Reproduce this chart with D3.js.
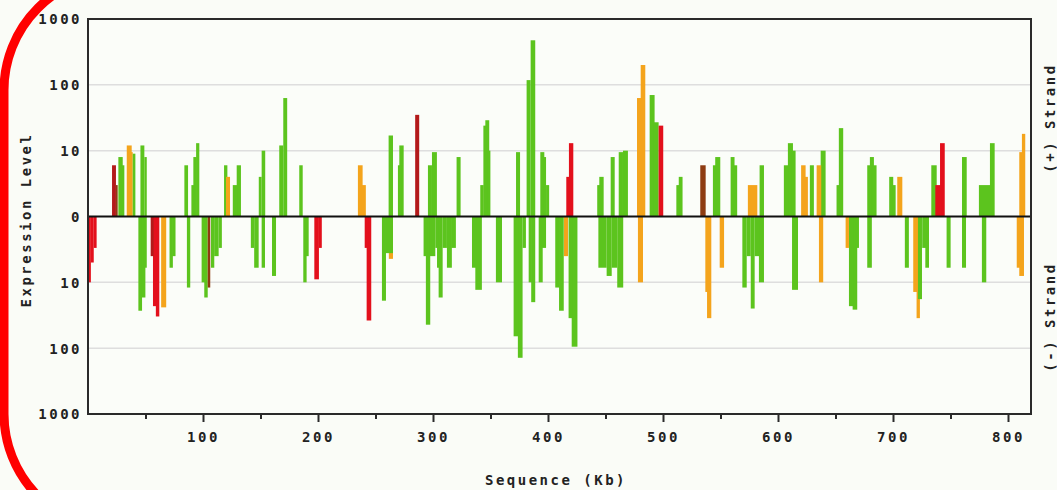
<!DOCTYPE html>
<html lang="en">
  <head>
    <script src="https://d3js.org/d3.v7.min.js"></script>
    <style>
      body { margin: 0; background: #fafcf7; }
      text { font-family: "DejaVu Sans Mono", monospace; font-weight: bold; font-size: 14px; letter-spacing: 2.5px; fill: #222; }
    </style>
  </head>
  <body>
    <script>
      // gene bars: [start Kb, end Kb, expression level, colour key]
      var plusGenes = [
        [20.9, 24.3, 6, "d"], [24.3, 25.8, 3, "b"], [26.4, 30.2, 8, "g"], [28.7, 31.6, 6, "g"],
        [33.7, 38.0, 12, "o"], [36.6, 38.9, 9.5, "o"], [38.9, 41.2, 9, "g"], [45.6, 49.0, 12, "g"],
        [49.0, 51.1, 8, "g"], [83.8, 87.0, 6, "g"], [89.9, 92.5, 3, "g"], [91.6, 94.6, 8, "g"],
        [94.0, 96.8, 13, "g"], [118.3, 121.2, 6, "g"], [120.0, 123.5, 4, "o"], [125.9, 130.1, 3, "g"],
        [129.3, 133.0, 6, "g"], [148.5, 151.0, 4, "g"], [151.0, 154.1, 10, "g"], [166.3, 169.8, 12, "g"],
        [169.8, 173.2, 63, "g"], [183.7, 186.7, 6, "g"],
        [234.7, 238.8, 6, "o"], [237.6, 241.6, 3, "o"], [261.4, 265.2, 17, "g"], [269.5, 272.4, 6, "g"],
        [270.7, 274.5, 12, "g"], [284.5, 288.0, 35, "d"], [295.6, 299.1, 6, "g"], [299.1, 303.4, 9.5, "g"],
        [320.5, 324.0, 8, "g"], [341.1, 344.1, 3, "g"], [343.8, 346.4, 24, "g"], [345.5, 348.9, 29, "g"],
        [347.0, 349.9, 10, "g"], [372.2, 375.7, 9.5, "g"], [381.4, 384.9, 118, "g"], [384.9, 388.9, 475, "g"],
        [393.3, 396.8, 9.5, "g"], [395.9, 398.3, 8, "g"], [398.3, 401.0, 3, "g"],
        [415.9, 418.8, 4, "r"], [418.2, 422.0, 13, "r"], [442.8, 445.8, 3, "g"], [444.6, 448.4, 4, "g"],
        [454.5, 458.0, 8, "g"], [461.5, 465.2, 9.5, "g"], [465.2, 469.5, 10, "g"], [477.4, 481.1, 63, "o"],
        [480.6, 484.6, 200, "o"], [488.4, 492.7, 70, "g"], [491.8, 496.2, 27, "g"], [496.2, 500.2, 24, "r"],
        [511.6, 514.5, 3, "g"], [513.7, 517.0, 4, "g"], [532.4, 537.1, 6, "b"], [543.4, 546.3, 6, "g"],
        [545.4, 549.8, 8, "g"], [558.8, 562.2, 8, "g"], [561.6, 564.5, 6, "g"], [573.8, 582.0, 3, "o"],
        [584.0, 587.8, 6, "g"], [605.1, 609.2, 6, "g"], [608.6, 613.0, 13, "g"], [611.5, 615.3, 10, "g"],
        [620.1, 624.0, 6, "o"], [623.4, 626.0, 4, "o"], [627.7, 631.2, 6, "g"], [633.6, 637.6, 6, "o"],
        [637.1, 641.4, 10, "g"], [650.9, 653.8, 3, "g"], [652.9, 656.7, 22, "g"], [677.6, 681.0, 6, "g"],
        [679.9, 683.4, 8, "g"], [682.2, 685.7, 6, "g"], [696.7, 700.2, 4, "g"], [699.7, 702.3, 3, "g"],
        [703.7, 708.1, 4, "o"], [733.3, 738.0, 6, "g"], [736.8, 741.5, 3, "r"], [740.9, 745.0, 13, "r"],
        [760.0, 764.1, 8, "g"], [774.7, 784.9, 3, "g"], [784.3, 788.4, 13, "g"], [809.8, 813.3, 9.5, "o"],
        [812.1, 815.0, 18, "o"]
      ];

      var minusGenes = [
        [0.5, 2.5, 10, "r"], [2.5, 5, 5, "r"], [5, 7.5, 3, "r"], [43.8, 47.0, 27, "g"],
        [46.2, 49.9, 17, "g"], [48.2, 51.1, 6, "g"], [54.5, 57, 4, "d"], [56.5, 59.5, 23, "r"],
        [59, 62, 33, "r"], [63.6, 68.0, 24, "o"], [70.9, 73.8, 6, "g"], [73.2, 76.1, 4, "g"],
        [86.0, 88.9, 12, "g"], [98.8, 102.6, 10, "g"], [101.1, 104.1, 17, "g"], [104.1, 106.3, 12, "b"],
        [106.9, 109.8, 6, "g"], [109.7, 113.6, 4, "g"], [113.6, 116.4, 3, "g"], [141.6, 144.5, 3, "g"],
        [144.5, 148.4, 6, "g"], [151.0, 153.9, 6, "g"], [160.0, 163.5, 8, "g"], [187.2, 190.1, 10, "g"],
        [189.5, 191.9, 4, "g"], [196.8, 200.8, 9, "r"], [200.8, 203.3, 3, "r"],
        [240.6, 244.1, 3, "r"], [242.3, 246.3, 38, "r"], [255.6, 259.1, 19, "g"], [261.6, 265.2, 4.4, "o"],
        [258.5, 265.2, 3.6, "g"], [291.8, 295.6, 4, "g"], [293.8, 297.6, 44, "g"], [296.8, 302.0, 4, "g"],
        [302.0, 304.9, 3, "g"], [303.5, 307.2, 6, "g"], [304.9, 308.4, 17, "g"], [308.4, 312.1, 3, "g"],
        [312.1, 316.4, 6, "g"], [315.8, 319.9, 3, "g"], [333.9, 337.6, 6, "g"], [336.8, 342.5, 13, "g"],
        [354.7, 360.0, 10, "g"], [370.1, 374.4, 66, "g"], [373.8, 377.9, 140, "g"], [377.9, 380.8, 3, "g"],
        [383.2, 386.0, 10, "g"], [385.4, 388.9, 20, "g"], [391.9, 395.4, 10, "g"], [394.8, 398.3, 3, "g"],
        [406.3, 410.0, 12, "g"], [409.6, 413.7, 27, "g"],
        [413.9, 417.4, 4, "o"], [417.9, 421.0, 35, "g"], [420.6, 425.6, 95, "g"], [443.8, 451.0, 6, "g"],
        [451.0, 455.4, 8, "g"], [455.4, 460.2, 6, "g"], [460.2, 465.4, 12, "g"], [478.2, 482.6, 10, "o"],
        [536.8, 540.0, 14, "o"], [538.3, 542.0, 35, "o"], [549.3, 553.1, 6, "o"], [569.0, 572.8, 12, "g"],
        [572.8, 576.3, 4, "g"], [576.3, 579.7, 25, "g"], [579.7, 584.0, 4, "g"], [583.4, 587.8, 10, "g"],
        [612.2, 617.4, 13, "g"],
        [635.6, 639.3, 10, "o"], [658.8, 661.7, 3, "o"], [661.7, 665.4, 23, "g"], [664.9, 668.9, 26, "g"],
        [667.5, 670.4, 3, "g"], [677.6, 681.6, 6, "g"], [710.3, 713.8, 6, "g"], [717.6, 721.1, 14, "o"],
        [720.5, 723.4, 35, "o"], [721.7, 725.2, 18, "g"], [725.4, 729.3, 3, "g"], [728.1, 731.3, 6, "g"],
        [746.6, 750.1, 6, "g"], [760.0, 763.5, 6, "g"], [777.3, 781.1, 10, "g"], [807.6, 811.1, 6, "o"],
        [809.8, 813.9, 8, "o"]
      ];

      var colours = { g: "#5cc41e", o: "#f4a41c", r: "#e3101c", d: "#b31a1a", b: "#8e3c12" };

      // signed decades on the y axis, and their labels
      var yTicks = [-3, -2, -1, 0, 1, 2, 3];
      var yTickLabels = ["1000", "100", "10", "0", "10", "100", "1000"];
      var gridLevels = [-2, -1, 1, 2];

      var width = 1057,
        height = 490;
      var plotLeft = 88,
        plotRight = 1031,
        plotTop = 19,
        plotBottom = 414;

      var svg = d3
        .select("body")
        .append("svg")
        .attr("width", width)
        .attr("height", height);

      var x = d3.scaleLinear().domain([0, 820]).range([plotLeft, plotRight]);
      var y = d3.scaleLinear().domain([-3, 3]).range([plotBottom, plotTop]);
      var lg = d3.scaleLog().domain([1, 1000]).range([0, 3]);

      // plot background
      svg
        .append("rect")
        .attr("x", plotLeft)
        .attr("y", plotTop)
        .attr("width", plotRight - plotLeft)
        .attr("height", plotBottom - plotTop)
        .attr("fill", "#fbfdf9");

      // light grid lines at 10 and 100
      svg
        .selectAll(".grid")
        .data(gridLevels)
        .join("line")
        .attr("class", "grid")
        .attr("x1", plotLeft)
        .attr("x2", plotRight)
        .attr("y1", function (d) { return y(d); })
        .attr("y2", function (d) { return y(d); })
        .attr("stroke", "#dedede")
        .attr("stroke-width", 1.5);

      // bars, tallest first so shorter overlapping genes stay visible
      function drawStrand(genes, sign, cls) {
        var sorted = genes.slice().sort(function (a, b) { return b[2] - a[2]; });
        svg
          .selectAll("." + cls)
          .data(sorted)
          .join("rect")
          .attr("class", cls)
          .attr("x", function (d) { return x(d[0]); })
          .attr("width", function (d) { return x(d[1]) - x(d[0]); })
          .attr("y", function (d) { return sign > 0 ? y(lg(d[2])) : y(0); })
          .attr("height", function (d) { return Math.abs(y(0) - y(lg(d[2]))); })
          .attr("fill", function (d) { return colours[d[3]]; });
      }
      drawStrand(plusGenes, 1, "plus");
      drawStrand(minusGenes, -1, "minus");

      // zero line
      svg
        .append("line")
        .attr("x1", plotLeft)
        .attr("x2", plotRight)
        .attr("y1", y(0))
        .attr("y2", y(0))
        .attr("stroke", "#111")
        .attr("stroke-width", 2);

      // frame
      svg
        .append("rect")
        .attr("x", plotLeft)
        .attr("y", plotTop)
        .attr("width", plotRight - plotLeft)
        .attr("height", plotBottom - plotTop)
        .attr("fill", "none")
        .attr("stroke", "#2a2a2a")
        .attr("stroke-width", 2);

      // x axis with minor ticks every 50 Kb
      var xAxis = svg
        .append("g")
        .attr("transform", "translate(0," + plotBottom + ")")
        .call(
          d3
            .axisBottom(x)
            .tickValues(d3.range(50, 820, 50))
            .tickFormat(function (d) { return d % 100 ? "" : d; })
            .tickSizeOuter(0)
            .tickPadding(12)
        );
      xAxis.select(".domain").remove();
      xAxis
        .selectAll(".tick line")
        .attr("stroke", "#2a2a2a")
        .attr("stroke-width", 2)
        .attr("y2", function (d) { return d % 100 ? 5 : 8; });
      xAxis.selectAll("text").attr("font-size", null).attr("font-family", null);

      // y axis labels
      var yAxis = svg
        .append("g")
        .attr("transform", "translate(" + plotLeft + ",0)")
        .call(
          d3
            .axisLeft(y)
            .tickValues(yTicks)
            .tickFormat(function (d, i) { return yTickLabels[i]; })
            .tickSize(0)
            .tickPadding(6)
        );
      yAxis.select(".domain").remove();
      yAxis.selectAll("text").attr("font-size", null).attr("font-family", null).attr("dy", "0.35em");

      // titles
      svg
        .append("text")
        .attr("x", 556)
        .attr("y", 485)
        .attr("text-anchor", "middle")
        .text("Sequence (Kb)");

      svg
        .append("text")
        .attr("transform", "translate(31," + 220 + ") rotate(-90)")
        .attr("text-anchor", "middle")
        .text("Expression Level");

      svg
        .append("text")
        .attr("transform", "translate(1055," + 118 + ") rotate(-90)")
        .attr("text-anchor", "middle")
        .text("(+) Strand");

      svg
        .append("text")
        .attr("transform", "translate(1055," + 317 + ") rotate(-90)")
        .attr("text-anchor", "middle")
        .text("(-) Strand");

      // red rounded outline on the left
      svg
        .append("rect")
        .attr("x", 4)
        .attr("y", -26)
        .attr("width", 1300)
        .attr("height", 556)
        .attr("rx", 116)
        .attr("fill", "none")
        .attr("stroke", "#ff0000")
        .attr("stroke-width", 9);
    </script>
  </body>
</html>
